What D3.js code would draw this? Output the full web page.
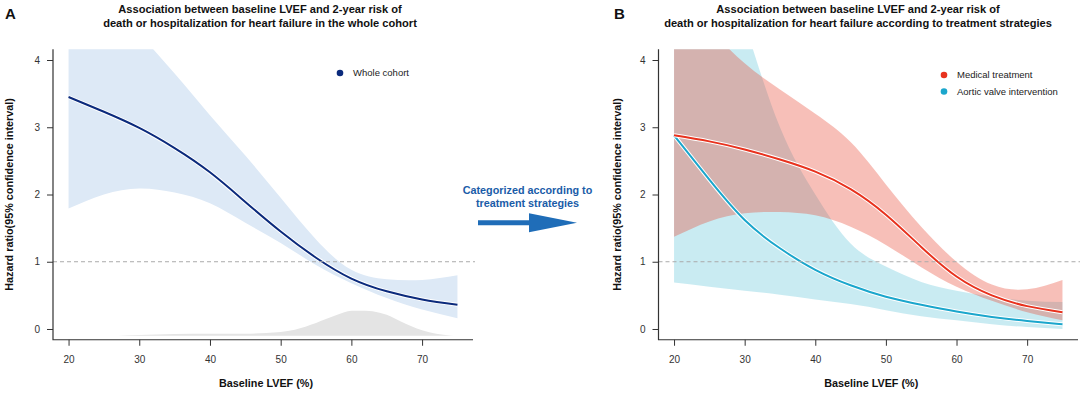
<!DOCTYPE html>
<html>
<head>
<meta charset="utf-8">
<script src="https://cdn.jsdelivr.net/npm/d3@7"></script>
<style>
  body { margin: 0; background: #fff; }
  svg { display: block; font-family: "Liberation Sans", Arial, sans-serif; }
  .tick text { font-size: 10px; fill: #333; }
  .tick line { stroke: #333; }
  .title { font-weight: bold; font-size: 11.1px; fill: #111; text-anchor: middle; }
  .panel-label { font-weight: bold; font-size: 15px; fill: #111; }
  .axis-title { font-weight: bold; font-size: 10.8px; fill: #111; text-anchor: middle; }
  .legend { font-size: 9.5px; fill: #222; }
</style>
</head>
<body>
<div id="chart"></div>
<script>
// Valores (LVEF em %, razão de risco)
const lvef = [20, 25, 30, 35, 40, 45, 50, 55, 60, 65, 70, 75];
const xTicks = [20, 30, 40, 50, 60, 70];
const yTicks = [0, 1, 2, 3, 4];

// Painel A - coorte inteira
const cohortHR    = [3.45, 3.23, 2.99, 2.69, 2.33, 1.89, 1.45, 1.06, 0.75, 0.56, 0.44, 0.36];
const cohortUpper = [5.70, 5.05, 4.40, 3.80, 3.18, 2.58, 1.95, 1.33, 0.88, 0.74, 0.73, 0.80];
const cohortLower = [1.79, 2.00, 2.09, 2.03, 1.87, 1.58, 1.28, 0.95, 0.68, 0.46, 0.29, 0.16];

// Distribuição (densidade) da LVEF, em unidades do eixo y acima da base
const densityLvef = [27, 30, 35, 40, 45, 48, 50, 52, 55, 58, 60, 62, 64, 65, 67, 70, 72, 74, 75];
const densityHt   = [0, 0.01, 0.025, 0.03, 0.03, 0.04, 0.055, 0.09, 0.19, 0.31, 0.37, 0.37, 0.34, 0.31, 0.21, 0.08, 0.03, 0.005, 0];
const densityBase = -0.1;

// Painel B - por estratégia de tratamento
const medHR    = [2.88, 2.79, 2.67, 2.52, 2.34, 2.08, 1.70, 1.22, 0.78, 0.50, 0.34, 0.25];
const medUpper = [4.90, 4.45, 3.95, 3.56, 3.20, 2.78, 2.15, 1.52, 1.00, 0.66, 0.59, 0.73];
const medLower = [1.37, 1.60, 1.72, 1.74, 1.69, 1.52, 1.25, 0.92, 0.63, 0.42, 0.25, 0.13];

const aviHR    = [2.88, 2.22, 1.62, 1.20, 0.88, 0.65, 0.48, 0.36, 0.26, 0.18, 0.12, 0.07];
const aviUpper = [8.40, 6.30, 4.55, 3.00, 2.00, 1.27, 0.93, 0.70, 0.57, 0.48, 0.42, 0.40];
const aviLower = [0.69, 0.63, 0.57, 0.51, 0.44, 0.37, 0.28, 0.19, 0.13, 0.07, 0.03, 0.00];

const width = 1084, height = 394;
const svg = d3.select("#chart").append("svg")
  .attr("width", width)
  .attr("height", height);

// Domínios com extensão de 4% (estilo R)
const xDomain = [17.8, 77.2], yDomain = [-0.16, 4.16];
const plotTop = 49.25, plotBottom = 339.75;

function drawPanel(p) {
  const x = d3.scaleLinear().domain(xDomain).range([p.left, p.right]);
  const y = d3.scaleLinear().domain(yDomain).range([plotBottom, plotTop]);

  const clipId = "clip-" + p.id;
  svg.append("clipPath").attr("id", clipId)
    .append("rect")
    .attr("x", p.left).attr("y", plotTop)
    .attr("width", p.right - p.left).attr("height", plotBottom - plotTop);

  const g = svg.append("g").attr("clip-path", `url(#${clipId})`);

  const area = (lo, hi) => d3.area()
    .x((d, i) => x(lvef[i]))
    .y0((d, i) => y(lo[i]))
    .y1((d, i) => y(hi[i]))
    .curve(d3.curveNatural)(lvef);

  const line = vals => d3.line()
    .x((d, i) => x(lvef[i]))
    .y((d, i) => y(vals[i]))
    .curve(d3.curveNatural)(lvef);

  if (p.density) {
    g.append("path")
      .attr("fill", "#e4e4e4")
      .attr("d", d3.area()
        .x((d, i) => x(densityLvef[i]))
        .y0(y(densityBase))
        .y1((d, i) => y(densityBase + densityHt[i]))
        .curve(d3.curveMonotoneX)(densityLvef));
  }

  // ordem de desenho: primeiro as faixas, depois as linhas
  const drawOrder = p.drawOrder.map(k => p.series[k]);
  drawOrder.forEach(s => {
    g.append("path").attr("fill", s.band).attr("d", area(s.lower, s.upper));
  });

  // linha de referência HR = 1
  svg.append("line")
    .attr("x1", p.left).attr("x2", p.right + 2)
    .attr("y1", y(1)).attr("y2", y(1))
    .attr("stroke", "#aaa").attr("stroke-width", 1)
    .attr("stroke-dasharray", "4,3");

  drawOrder.forEach(s => {
    g.append("path").attr("fill", "none").attr("stroke", "#fff")
      .attr("stroke-width", 4).attr("d", line(s.hr));
    g.append("path").attr("fill", "none").attr("stroke", s.color)
      .attr("stroke-width", 2).attr("d", line(s.hr));
  });

  // Eixos
  const gx = svg.append("g")
    .attr("transform", `translate(0,${plotBottom})`)
    .call(d3.axisBottom(x).tickValues(xTicks).tickSize(6).tickPadding(10));
  gx.select(".domain").remove();

  const gy = svg.append("g")
    .attr("transform", `translate(${p.left},0)`)
    .call(d3.axisLeft(y).tickValues(yTicks).tickFormat(d3.format("d")).tickSize(6).tickPadding(7));
  gy.select(".domain").remove();

  svg.append("path")
    .attr("fill", "none").attr("stroke", "#333").attr("stroke-width", 1.2)
    .attr("d", `M${p.left},${plotTop}V${plotBottom}H${p.right}`);

  // Títulos
  svg.append("text").attr("class", "panel-label")
    .attr("x", p.labelX).attr("y", 19).text(p.id);
  svg.append("text").attr("class", "title")
    .attr("x", p.titleX).attr("y", 13).text(p.title[0]);
  svg.append("text").attr("class", "title")
    .attr("x", p.titleX).attr("y", 26.5).text(p.title[1]);

  svg.append("text").attr("class", "axis-title")
    .attr("x", (p.left + p.right) / 2 + 3).attr("y", 387)
    .text("Baseline LVEF (%)");
  svg.append("text").attr("class", "axis-title")
    .attr("transform", `translate(${p.yTitleX},${(plotTop + plotBottom) / 2}) rotate(-90)`)
    .text("Hazard ratio(95% confidence interval)");

  // Legenda
  p.series.forEach((s, i) => {
    const ly = p.legendY + i * 16.5;
    svg.append("circle").attr("cx", p.legendX).attr("cy", ly)
      .attr("r", 3.3).attr("fill", s.color);
    svg.append("text").attr("class", "legend")
      .attr("x", p.legendX + 13).attr("y", ly + 3.4).text(s.name);
  });
}

drawPanel({
  id: "A", left: 53, right: 473, labelX: 5, titleX: 260, yTitleX: 13,
  legendX: 340, legendY: 73, density: true, drawOrder: [0],
  title: ["Association between baseline LVEF and 2-year risk of",
          "death or hospitalization for heart failure in the whole cohort"],
  series: [
    { name: "Whole cohort", hr: cohortHR, upper: cohortUpper, lower: cohortLower,
      color: "#0b2a7c", band: "#dde9f6" }
  ]
});

drawPanel({
  id: "B", left: 658.5, right: 1078, labelX: 614, titleX: 858, yTitleX: 621,
  legendX: 944, legendY: 75, density: false, drawOrder: [1, 0],
  title: ["Association between baseline LVEF and 2-year risk of",
          "death or hospitalization for heart failure according to treatment strategies"],
  series: [
    { name: "Medical treatment", hr: medHR, upper: medUpper, lower: medLower,
      color: "#e8321e", band: "rgba(232,72,52,0.35)" },
    { name: "Aortic valve intervention", hr: aviHR, upper: aviUpper, lower: aviLower,
      color: "#1ba6cc", band: "rgba(40,175,205,0.25)" }
  ]
});

// Seta entre os painéis
svg.append("text").attr("class", "axis-title")
  .attr("x", 527.5).attr("y", 194).style("fill", "#1a5ca8")
  .text("Categorized according to");
svg.append("text").attr("class", "axis-title")
  .attr("x", 527.5).attr("y", 207).style("fill", "#1a5ca8")
  .text("treatment strategies");
svg.append("path")
  .attr("fill", "#1f6db8")
  .attr("d", "M478,220.2H529V213.3L577,222.7L529,232.3V225.2H478Z");
</script>
</body>
</html>
